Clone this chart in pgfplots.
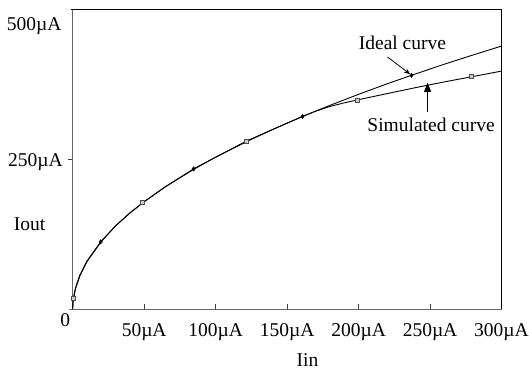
\documentclass[border=0pt]{standalone}
\usepackage{fontspec}
\setmainfont{Liberation Serif}
\usepackage{pgfplots}
\pgfplotsset{compat=1.18}
\usetikzlibrary{arrows.meta}
\begin{document}
\fontsize{19.5bp}{23bp}\selectfont
\begin{tikzpicture}
\begin{axis}[
  at={(0,0)}, anchor=south west,
  scale only axis, width=428.8bp, height=300bp,
  xmin=0, xmax=300, ymin=0, ymax=500,
  axis x line=bottom, axis y line=left,
  axis line style={-, draw=black!60, line width=0.9bp},
  x axis line style={shorten <=-4bp},
  clip=false,
  xtick={50,100,150,200,250,300},
  xticklabels={50µA,100µA,150µA,200µA,250µA,300µA},
  xtick align=inside,
  ytick={250}, yticklabels={250µA},
  ytick align=outside,
  major tick length=4.5bp,
  every tick/.style={black!75, line width=0.9bp},
  xticklabel style={anchor=base, inner sep=0pt, yshift=-27.5bp},
  yticklabel style={anchor=base east, inner sep=0pt, xshift=-5.4bp, yshift=-7.7bp},
  extra y ticks={500}, extra y tick labels={500µA},
  extra y tick style={major tick length=0pt, yticklabel style={anchor=base east, inner sep=0pt, xshift=-5.7bp, yshift=-14.3bp}},
  xlabel={Iin},
  xlabel style={at={(axis description cs:0.5476,-0.19)}, anchor=base, inner sep=0pt},
  ylabel={Iout},
  ylabel style={at={(axis description cs:-0.1007,0.261)}, rotate=-90, anchor=base, inner sep=0pt},
]
% Ideal curve
\addplot[black, line width=0.9bp] coordinates {
  (0,0) (0.2,11.3) (0.7,21.2) (2,35.8) (5,56.6) (10,80.0) (19.6,112) (30,138.6)
  (40,160.0) (50,178.9) (65,204.0) (84.6,233.5) (100,253) (122,279.4) (140,299.3)
  (160.8,320.8) (180,339.4) (200,357.8) (220,375.3) (237,389.5) (260,408.0)
  (280,423.3) (300,438.2)
};
% Simulated curve
\addplot[black, line width=0.9bp] coordinates {
  (0,0) (0.2,10.5) (0.7,18) (2,34) (5,55) (10,79) (20,112.5) (30,138.6)
  (40,160.0) (49,177) (65,204.0) (85,233.3) (100,253) (121.7,280) (140,299.3)
  (160,320.3) (170,329.8) (180,337.6) (190,343.6) (199.3,348.5) (220,359)
  (240,369) (260,378.5) (279,387) (300,396.5)
};
% Ideal markers
\addplot[only marks, mark=diamond*, mark size=2.2bp, black] coordinates {
  (19.6,112) (84.6,233.5) (160.8,320.8) (237,389.5)
};
% Simulated markers
\addplot[only marks, mark=square*, mark size=2bp, draw=black!70, fill=black!20, line width=0.6bp] coordinates {
  (0.7,18) (49,177) (121.7,280) (199.3,348.5) (279,387)
};
\draw[black, line width=0.9bp] (rel axis cs:0,1) ++(-2bp,0) -- (rel axis cs:1,1) -- (rel axis cs:1,0);
\node[anchor=base, inner sep=0pt, xshift=-7.4bp, yshift=-17bp] at (axis cs:0,0) {0};
\node[anchor=base, inner sep=0pt] at (axis cs:230.7,432.8) {Ideal curve};
\node[anchor=base, inner sep=0pt] at (axis cs:250.7,295.5) {Simulated curve};
\draw[line width=0.8bp, -{Stealth[length=6bp, width=5bp]}] (axis cs:220.3,420) -- (axis cs:236,391.5);
\draw[line width=0.8bp, -{Triangle[length=9bp, width=7bp]}] (axis cs:248.3,328) -- (axis cs:248.3,377);
\end{axis}
\pgfresetboundingbox
\path[use as bounding box] (-72.7bp,-62bp) rectangle (456.3bp,309bp);
\end{tikzpicture}
\end{document}
